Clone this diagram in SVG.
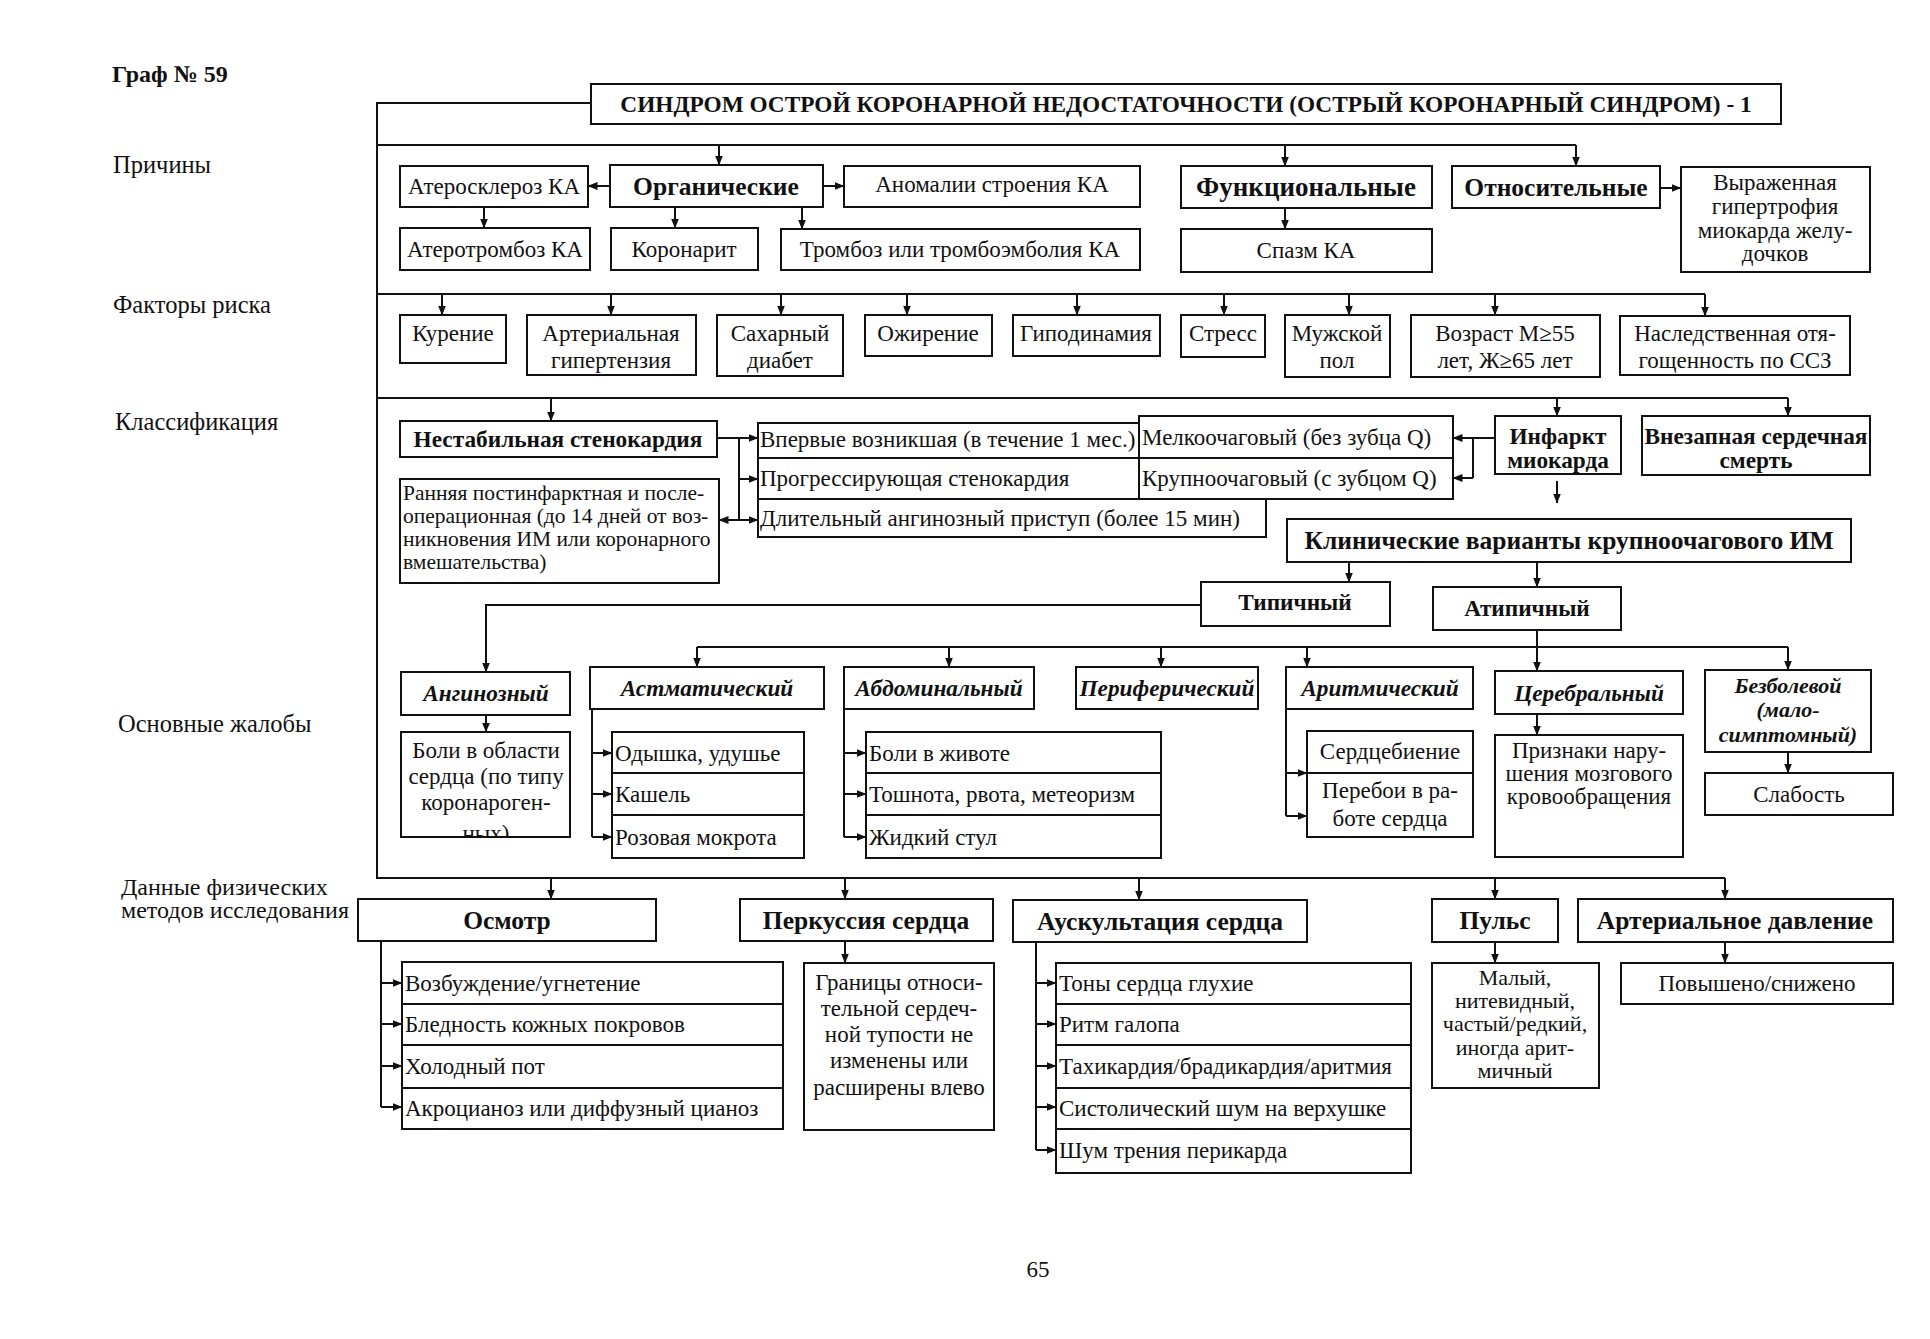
<svg xmlns="http://www.w3.org/2000/svg" width="1930" height="1339" viewBox="0 0 1930 1339">
<style>
rect{fill:#fff;stroke:#111;stroke-width:2}
text{font-family:"Liberation Serif","Times New Roman",serif;font-size:23px;fill:#111}
.c{text-anchor:middle}
.b{font-weight:bold;font-size:25.5px}
.b23{font-weight:bold;font-size:23.3px}
.bi{font-weight:bold;font-style:italic;font-size:23.3px}
.s{font-size:21.5px}
.lab{font-size:24.5px}
#conn path{fill:none;stroke:#111;stroke-width:2}
.ar{marker-end:url(#ah)}
</style>
<defs>
<marker id="ah" markerWidth="10" markerHeight="8" refX="9.5" refY="4" orient="auto-start-reverse" markerUnits="userSpaceOnUse"><path d="M0,0 L10,4 L0,8 z" fill="#111"/></marker>
<clipPath id="clipBoli"><rect x="401" y="732" width="169" height="105"/></clipPath>
</defs>
<rect x="0" y="0" width="1930" height="1339" style="stroke:none"/>

<g id="labels">
<text x="112" y="82" class="b" style="font-size:24px">Граф № 59</text>
<text x="113" y="173" class="lab">Причины</text>
<text x="113" y="313" class="lab">Факторы риска</text>
<text x="115" y="430" class="lab">Классификация</text>
<text x="118" y="732" class="lab">Основные жалобы</text>
<text x="121" y="895" style="font-size:24px">Данные физических</text>
<text x="121" y="918" style="font-size:24px">методов исследования</text>
<text x="1038" y="1277" class="c">65</text>
</g>

<g id="conn">
<!-- main spine -->
<path d="M591,103 H377 V878 H1725"/>
<!-- causes -->
<path d="M377,145 H1576"/>
<path class="ar" d="M719,145 V165"/>
<path class="ar" d="M1285,145 V166"/>
<path class="ar" d="M1576,145 V166"/>
<path class="ar" d="M610,186 H588"/>
<path class="ar" d="M823,186 H844"/>
<path class="ar" d="M484,207 V228"/>
<path class="ar" d="M675,207 V228"/>
<path class="ar" d="M802,207 V229"/>
<path class="ar" d="M1285,208 V229"/>
<path class="ar" d="M1660,188 H1681"/>
<!-- risk factors -->
<path d="M377,294 H1705"/>
<path class="ar" d="M442,294 V315"/>
<path class="ar" d="M611,294 V315"/>
<path class="ar" d="M781,294 V315"/>
<path class="ar" d="M907,294 V315"/>
<path class="ar" d="M1077,294 V315"/>
<path class="ar" d="M1224,294 V315"/>
<path class="ar" d="M1349,294 V315"/>
<path class="ar" d="M1495,294 V315"/>
<path class="ar" d="M1705,294 V316"/>
<!-- classification -->
<path d="M377,398 H1788"/>
<path class="ar" d="M551,398 V421"/>
<path class="ar" d="M1557,398 V416"/>
<path class="ar" d="M1788,398 V416"/>
<path class="ar" d="M717,438 H758"/>
<path d="M739,438 V520"/>
<path class="ar" d="M739,479 H758"/>
<path class="ar" style="marker-start:url(#ah)" d="M719,520 H758"/>
<path class="ar" d="M1495,438 H1453"/>
<path d="M1473,438 V478"/>
<path class="ar" d="M1473,478 H1453"/>
<path class="ar" d="M1557,481 V503"/>
<path class="ar" d="M1349,562 V582"/>
<path class="ar" d="M1537,562 V587"/>
<!-- complaints -->
<path class="ar" d="M1201,605 H486 V672"/>
<path class="ar" d="M1537,630 V671"/>
<path d="M697,647 H1788"/>
<path class="ar" d="M697,647 V667"/>
<path class="ar" d="M949,647 V667"/>
<path class="ar" d="M1161,647 V667"/>
<path class="ar" d="M1307,647 V667"/>
<path class="ar" d="M1788,647 V670"/>
<path class="ar" d="M486,715 V732"/>
<path d="M592,709 V837"/>
<path class="ar" d="M592,753 H612"/>
<path class="ar" d="M592,794 H612"/>
<path class="ar" d="M592,837 H612"/>
<path d="M844,709 V837"/>
<path class="ar" d="M844,753 H866"/>
<path class="ar" d="M844,794 H866"/>
<path class="ar" d="M844,837 H866"/>
<path d="M1286,709 V816"/>
<path class="ar" d="M1286,773 H1307"/>
<path class="ar" d="M1286,816 H1307"/>
<path class="ar" d="M1537,714 V735"/>
<path class="ar" d="M1788,752 V773"/>
<!-- physical -->
<path class="ar" d="M551,878 V899"/>
<path class="ar" d="M845,878 V899"/>
<path class="ar" d="M1139,878 V900"/>
<path class="ar" d="M1495,878 V899"/>
<path class="ar" d="M1725,878 V899"/>
<path d="M381,941 V1107"/>
<path class="ar" d="M381,983 H402"/>
<path class="ar" d="M381,1024 H402"/>
<path class="ar" d="M381,1066 H402"/>
<path class="ar" d="M381,1107 H402"/>
<path class="ar" d="M845,941 V963"/>
<path d="M1036,942 V1150"/>
<path class="ar" d="M1036,983 H1056"/>
<path class="ar" d="M1036,1024 H1056"/>
<path class="ar" d="M1036,1066 H1056"/>
<path class="ar" d="M1036,1107 H1056"/>
<path class="ar" d="M1036,1150 H1056"/>
<path class="ar" d="M1495,942 V963"/>
<path class="ar" d="M1725,942 V963"/>
</g>

<g id="title"><rect x="591" y="84" width="1190" height="40"/><text x="1186" y="112" class="c b23">СИНДРОМ ОСТРОЙ КОРОНАРНОЙ НЕДОСТАТОЧНОСТИ (ОСТРЫЙ КОРОНАРНЫЙ СИНДРОМ) - 1</text></g>

<!-- causes -->
<g id="ateroskleroz"><rect x="400" y="166" width="188" height="41"/><text x="494" y="194" class="c">Атеросклероз КА</text></g>
<g id="organic"><rect x="610" y="165" width="213" height="42"/><text x="716" y="195" class="c b">Органические</text></g>
<g id="anomalii"><rect x="844" y="166" width="296" height="41"/><text x="992" y="192" class="c">Аномалии строения КА</text></g>
<g id="aterotromboz"><rect x="400" y="228" width="190" height="42"/><text x="495" y="257" class="c">Атеротромбоз КА</text></g>
<g id="koronarit"><rect x="611" y="228" width="147" height="42"/><text x="684" y="257" class="c">Коронарит</text></g>
<g id="tromboz"><rect x="781" y="229" width="359" height="41"/><text x="960" y="257" class="c">Тромбоз или тромбоэмболия КА</text></g>
<g id="functional"><rect x="1181" y="166" width="251" height="42"/><text x="1306" y="196" class="c b" style="font-size:27px">Функциональные</text></g>
<g id="spazm"><rect x="1181" y="229" width="251" height="43"/><text x="1306" y="258" class="c">Спазм КА</text></g>
<g id="relative"><rect x="1452" y="166" width="208" height="42"/><text x="1556" y="196" class="c b">Относительные</text></g>
<g id="gipertrofia"><rect x="1681" y="167" width="189" height="105"/><text class="c"><tspan x="1775" y="190">Выраженная</tspan><tspan x="1775" y="214">гипертрофия</tspan><tspan x="1775" y="238">миокарда желу-</tspan><tspan x="1775" y="261">дочков</tspan></text></g>

<!-- risk factors -->
<g id="kurenie"><rect x="400" y="315" width="106" height="48"/><text x="453" y="341" class="c">Курение</text></g>
<g id="ag"><rect x="527" y="315" width="169" height="60"/><text class="c"><tspan x="611" y="341">Артериальная</tspan><tspan x="611" y="368">гипертензия</tspan></text></g>
<g id="sd"><rect x="717" y="315" width="126" height="61"/><text class="c"><tspan x="780" y="341">Сахарный</tspan><tspan x="780" y="368">диабет</tspan></text></g>
<g id="ozhirenie"><rect x="865" y="315" width="127" height="41"/><text x="928" y="341" class="c">Ожирение</text></g>
<g id="gipodinamia"><rect x="1013" y="315" width="147" height="41"/><text x="1086" y="341" class="c">Гиподинамия</text></g>
<g id="stress"><rect x="1181" y="315" width="84" height="42"/><text x="1223" y="341" class="c">Стресс</text></g>
<g id="muzhskoy"><rect x="1285" y="315" width="105" height="62"/><text class="c"><tspan x="1337" y="341">Мужской</tspan><tspan x="1337" y="368">пол</tspan></text></g>
<g id="vozrast"><rect x="1411" y="315" width="189" height="62"/><text class="c"><tspan x="1505" y="341">Возраст М≥55</tspan><tspan x="1505" y="368">лет, Ж≥65 лет</tspan></text></g>
<g id="nasledstv"><rect x="1620" y="316" width="230" height="59"/><text class="c"><tspan x="1735" y="341">Наследственная отя-</tspan><tspan x="1735" y="368">гощенность по ССЗ</tspan></text></g>

<!-- classification -->
<g id="nestabilnaya"><rect x="400" y="421" width="317" height="36"/><text x="558" y="447" class="c b23">Нестабильная стенокардия</text></g>
<g id="rannyaya"><rect x="400" y="479" width="319" height="104"/><text class="s"><tspan x="403" y="500">Ранняя постинфарктная и после-</tspan><tspan x="403" y="523">операционная (до 14 дней от воз-</tspan><tspan x="403" y="546">никновения ИМ или коронарного</tspan><tspan x="403" y="569">вмешательства)</tspan></text></g>
<g id="vpervye"><rect x="758" y="423" width="381" height="35"/><text x="760" y="447">Впервые возникшая (в течение 1 мес.)</text></g>
<g id="progress"><rect x="758" y="458" width="381" height="41"/><text x="760" y="486">Прогрессирующая стенокардия</text></g>
<g id="dlitelny"><rect x="758" y="499" width="508" height="38"/><text x="760" y="526">Длительный ангинозный приступ (более 15 мин)</text></g>
<g id="melko"><rect x="1139" y="416" width="314" height="42"/><text x="1142" y="445">Мелкоочаговый (без зубца Q)</text></g>
<g id="krupno"><rect x="1139" y="458" width="314" height="41"/><text x="1142" y="486">Крупноочаговый (с зубцом Q)</text></g>
<g id="infarkt"><rect x="1495" y="416" width="126" height="58"/><text class="c b23"><tspan x="1558" y="444">Инфаркт</tspan><tspan x="1558" y="468">миокарда</tspan></text></g>
<g id="vnezapnaya"><rect x="1642" y="416" width="228" height="59"/><text class="c b23"><tspan x="1756" y="444">Внезапная сердечная</tspan><tspan x="1756" y="468">смерть</tspan></text></g>
<g id="klinicheskie"><rect x="1287" y="519" width="564" height="43"/><text x="1569" y="549" class="c b">Клинические варианты крупноочагового ИМ</text></g>
<g id="tipichny"><rect x="1201" y="582" width="189" height="44"/><text x="1295" y="610" class="c b23">Типичный</text></g>
<g id="atipichny"><rect x="1433" y="587" width="188" height="43"/><text x="1527" y="616" class="c b23">Атипичный</text></g>

<!-- complaints -->
<g id="anginozny"><rect x="401" y="672" width="169" height="43"/><text x="486" y="701" class="c bi">Ангинозный</text></g>
<g id="boli"><rect x="401" y="732" width="169" height="105"/><g clip-path="url(#clipBoli)"><text class="c"><tspan x="486" y="758">Боли в области</tspan><tspan x="486" y="784">сердца (по типу</tspan><tspan x="486" y="810">коронароген-</tspan><tspan x="486" y="841">ных)</tspan></text></g></g>
<g id="astmatich"><rect x="590" y="667" width="234" height="42"/><text x="707" y="696" class="c bi">Астматический</text></g>
<g id="astm-list"><rect x="612" y="732" width="192" height="41"/><rect x="612" y="773" width="192" height="42"/><rect x="612" y="815" width="192" height="43"/><text x="615" y="761">Одышка, удушье</text><text x="615" y="802">Кашель</text><text x="615" y="845">Розовая мокрота</text></g>
<g id="abdominal"><rect x="844" y="667" width="190" height="42"/><text x="939" y="696" class="c bi">Абдоминальный</text></g>
<g id="abd-list"><rect x="866" y="732" width="295" height="41"/><rect x="866" y="773" width="295" height="42"/><rect x="866" y="815" width="295" height="43"/><text x="869" y="761">Боли в животе</text><text x="869" y="802">Тошнота, рвота, метеоризм</text><text x="869" y="845">Жидкий стул</text></g>
<g id="periferich"><rect x="1076" y="667" width="182" height="42"/><text x="1167" y="696" class="c bi">Периферический</text></g>
<g id="aritmich"><rect x="1286" y="667" width="187" height="42"/><text x="1380" y="696" class="c bi">Аритмический</text></g>
<g id="aritm-list"><rect x="1307" y="731" width="166" height="42"/><rect x="1307" y="773" width="166" height="64"/><text x="1390" y="759" class="c">Сердцебиение</text><text class="c"><tspan x="1390" y="798">Перебои в ра-</tspan><tspan x="1390" y="826">боте сердца</tspan></text></g>
<g id="cerebral"><rect x="1495" y="671" width="188" height="43"/><text x="1589" y="701" class="c bi">Церебральный</text></g>
<g id="priznaki"><rect x="1495" y="735" width="188" height="122"/><text class="c"><tspan x="1589" y="758">Признаки нару-</tspan><tspan x="1589" y="781">шения мозгового</tspan><tspan x="1589" y="804">кровообращения</tspan></text></g>
<g id="bezbolevoy"><rect x="1705" y="670" width="166" height="82"/><text class="c bi" style="font-size:22px"><tspan x="1788" y="693">Безболевой</tspan><tspan x="1788" y="717">(мало-</tspan><tspan x="1788" y="742">симптомный)</tspan></text></g>
<g id="slabost"><rect x="1705" y="773" width="188" height="42"/><text x="1799" y="802" class="c">Слабость</text></g>

<!-- physical -->
<g id="osmotr"><rect x="358" y="899" width="298" height="42"/><text x="507" y="929" class="c b">Осмотр</text></g>
<g id="osmotr-list"><rect x="402" y="962" width="381" height="42"/><rect x="402" y="1004" width="381" height="41"/><rect x="402" y="1045" width="381" height="43"/><rect x="402" y="1088" width="381" height="41"/><text x="405" y="991">Возбуждение/угнетение</text><text x="405" y="1032">Бледность кожных покровов</text><text x="405" y="1074">Холодный пот</text><text x="405" y="1116">Акроцианоз или диффузный цианоз</text></g>
<g id="perkussia"><rect x="740" y="899" width="253" height="42"/><text x="866" y="929" class="c b">Перкуссия сердца</text></g>
<g id="granicy"><rect x="804" y="963" width="190" height="167"/><text class="c"><tspan x="899" y="990">Границы относи-</tspan><tspan x="899" y="1016">тельной сердеч-</tspan><tspan x="899" y="1042">ной тупости не</tspan><tspan x="899" y="1068">изменены или</tspan><tspan x="899" y="1095">расширены влево</tspan></text></g>
<g id="auskultacia"><rect x="1013" y="900" width="294" height="42"/><text x="1160" y="930" class="c b">Аускультация сердца</text></g>
<g id="ausk-list"><rect x="1056" y="963" width="355" height="41"/><rect x="1056" y="1004" width="355" height="41"/><rect x="1056" y="1045" width="355" height="43"/><rect x="1056" y="1088" width="355" height="41"/><rect x="1056" y="1129" width="355" height="44"/><text x="1059" y="991">Тоны сердца глухие</text><text x="1059" y="1032">Ритм галопа</text><text x="1059" y="1074">Тахикардия/брадикардия/аритмия</text><text x="1059" y="1116">Систолический шум на верхушке</text><text x="1059" y="1158">Шум трения перикарда</text></g>
<g id="puls"><rect x="1432" y="899" width="126" height="43"/><text x="1495" y="929" class="c b">Пульс</text></g>
<g id="maly"><rect x="1432" y="963" width="167" height="125"/><text class="c" style="font-size:22px"><tspan x="1515" y="985">Малый,</tspan><tspan x="1515" y="1008">нитевидный,</tspan><tspan x="1515" y="1031">частый/редкий,</tspan><tspan x="1515" y="1055">иногда арит-</tspan><tspan x="1515" y="1078">мичный</tspan></text></g>
<g id="ad"><rect x="1578" y="899" width="315" height="43"/><text x="1735" y="929" class="c b">Артериальное давление</text></g>
<g id="povysheno"><rect x="1621" y="963" width="272" height="41"/><text x="1757" y="991" class="c">Повышено/снижено</text></g>
</svg>
